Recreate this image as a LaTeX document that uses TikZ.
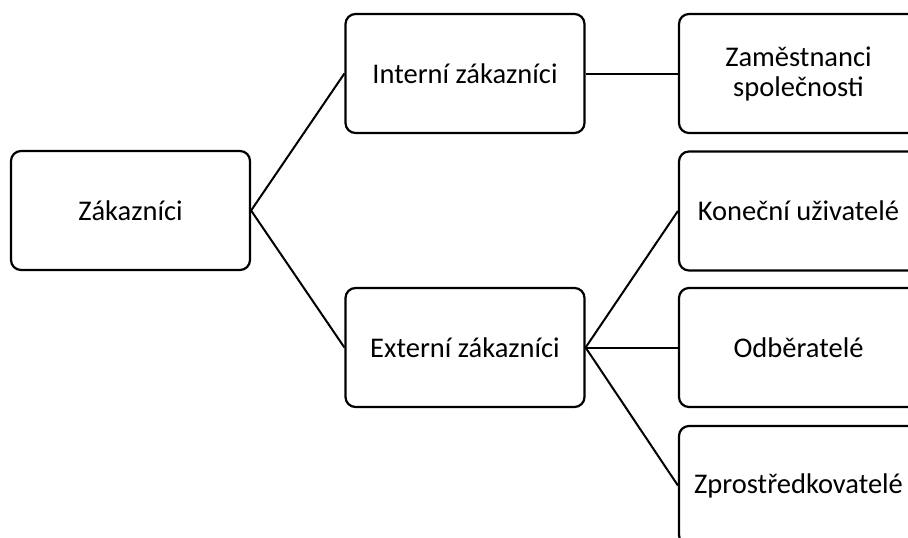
\documentclass[tikz,border=0pt]{standalone}
\usepackage{fontspec}
\setmainfont{Carlito}
\begin{document}
\begin{tikzpicture}[x=1pt,y=-1pt,
  box/.style={draw=black, line width=2.2pt, rounded corners=10pt, fill=white,
    minimum width=239pt, minimum height=119pt, align=center, inner sep=0pt,
    font=\fontsize{28.5}{30}\selectfont},
  link/.style={draw=black, line width=2pt}]
  \clip (0,0) rectangle (908,538);
  \fill[white] (0,0) rectangle (908,538);
  % tree of nodes
  \node[box] (root) at (130.5,210.5) {Zákazníci};
  \node[box] (int)  at (465,73.5)    {Interní zákazníci};
  \node[box] (ext)  at (465,347.5)   {Externí zákazníci};
  \node[box] (emp)  at (798.5,73.5)  {Zaměstnanci\\společnosti};
  \node[box] (end)  at (798.5,211)   {Koneční uživatelé};
  \node[box] (buy)  at (798.5,347.5) {Odběratelé};
  \node[box] (mid)  at (798.5,485.5) {Zprostředkovatelé};
  % connectors
  \draw[link] (root.east) -- (int.west);
  \draw[link] (root.east) -- (ext.west);
  \draw[link] (int.east) -- (emp.west);
  \draw[link] (ext.east) -- (end.west);
  \draw[link] (ext.east) -- (buy.west);
  \draw[link] (ext.east) -- (mid.west);
\end{tikzpicture}
\end{document}
